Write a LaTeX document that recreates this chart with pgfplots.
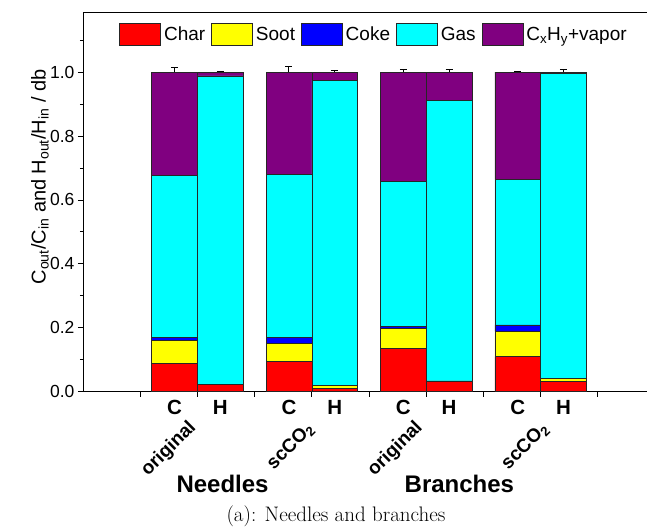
\documentclass[border=0pt]{standalone}
\usepackage{fontspec}
\usepackage{pgfplots}
\pgfplotsset{compat=1.18}
\newfontfamily\arial{Liberation Sans}
\definecolor{cchar}{RGB}{255,0,0}
\definecolor{csoot}{RGB}{255,255,0}
\definecolor{ccoke}{RGB}{0,0,255}
\definecolor{cgas}{RGB}{0,255,255}
\definecolor{cvap}{RGB}{128,0,128}
\tikzset{rotlab/.style={font=\arial\bfseries\fontsize{19bp}{22bp}\selectfont, rotate=45, anchor=east}}
\pgfplotsset{
  frame/.style={at={(0,0)}, anchor=south west,
  scale only axis, width=564bp, height=379bp,
  xmin=0, xmax=4.93, ymin=0, ymax=1.186}
}
\begin{document}
\begin{tikzpicture}
\useasboundingbox (-83bp,-140.3bp) rectangle (564bp,391.7bp);
\begin{axis}[
  frame, clip=false,
  ybar stacked, bar width=0.4,
  axis y line*=left, axis x line*=bottom,
  axis line style={line width=0.9bp, black},
  tick align=outside,
  major tick length=5bp, minor tick length=3bp,
  tick style={black, line width=0.9bp},
  xtick={0.5,1,1.5,2,2.5,3,3.5,4,4.5}, xticklabels={},
  extra x ticks={0.8,1.2,1.8,2.2,2.8,3.2,3.8,4.2},
  extra x tick labels={C,H,C,H,C,H,C,H},
  extra x tick style={major tick length=0pt,
     tick label style={font=\arial\bfseries\fontsize{20.5bp}{24bp}\selectfont, yshift=-5bp}},
  ytick={0,0.2,0.4,0.6,0.8,1.0},
  minor ytick={0.1,0.3,0.5,0.7,0.9,1.1},
  /pgf/number format/assume math mode=true,
  yticklabel style={/pgf/number format/fixed, /pgf/number format/fixed zerofill, /pgf/number format/precision=1,
     font=\arial\fontsize{17.5bp}{20bp}\selectfont},
  ylabel={C\textsubscript{out}/C\textsubscript{in} and H\textsubscript{out}/H\textsubscript{in} / db},
  every axis y label/.style={at={(rel axis cs:0,0.567)}, xshift=-43bp, rotate=90, anchor=center,
     font=\arial\fontsize{20bp}{24bp}\selectfont},
  legend columns=5,
  legend style={at={(rel axis cs:0.516,0.9425)}, anchor=center, draw=none, fill=none,
     font=\arial\fontsize{19bp}{22bp}\selectfont,
     /tikz/every odd column/.append style={column sep=1bp},
     /tikz/every even column/.append style={column sep=4bp}},
  legend image code/.code={\draw[#1, draw=black!85, line width=0.7bp] (0bp,-10.8bp) rectangle (41bp,10.8bp);},
  every axis plot/.append style={draw=black!85, line width=0.6bp},
]
\addplot[fill=cchar] coordinates {(0.8,0.089) (1.2,0.022) (1.8,0.096) (2.2,0.011) (2.8,0.136) (3.2,0.034) (3.8,0.110) (4.2,0.033)};
\addlegendentry{Char}
\addplot[fill=csoot] coordinates {(0.8,0.071) (1.2,0.002) (1.8,0.056) (2.2,0.009) (2.8,0.061) (3.2,0.0) (3.8,0.079) (4.2,0.008)};
\addlegendentry{Soot}
\addplot[fill=ccoke] coordinates {(0.8,0.010) (1.2,0.0) (1.8,0.018) (2.2,0.0) (2.8,0.008) (3.2,0.0) (3.8,0.020) (4.2,0.0)};
\addlegendentry{Coke}
\addplot[fill=cgas] coordinates {(0.8,0.506) (1.2,0.964) (1.8,0.511) (2.2,0.955) (2.8,0.454) (3.2,0.877) (3.8,0.455) (4.2,0.956)};
\addlegendentry{Gas}
\addplot[fill=cvap] coordinates {(0.8,0.324) (1.2,0.012) (1.8,0.319) (2.2,0.025) (2.8,0.341) (3.2,0.089) (3.8,0.336) (4.2,0.003)};
\addlegendentry{C\textsubscript{x}H\textsubscript{y}+vapor}
\draw[line width=0.9bp, black] (rel axis cs:0,1) -- (rel axis cs:1,1);
\node[rotlab] at (axis cs:0.985,-0.096) {original};
\node[rotlab] at (axis cs:2.015,-0.100) {scCO\textsubscript{2}};
\node[rotlab] at (axis cs:2.965,-0.096) {original};
\node[rotlab] at (axis cs:4.065,-0.100) {scCO\textsubscript{2}};
\node[font=\arial\bfseries\fontsize{24bp}{28bp}\selectfont, yshift=-92.3bp] at (axis cs:1.22,0) {Needles};
\node[font=\arial\bfseries\fontsize{24bp}{28bp}\selectfont, yshift=-92.3bp] at (axis cs:3.29,0) {Branches};
\end{axis}
\begin{axis}[frame, hide axis]
\addplot[draw=none, mark=none, forget plot,
   error bars/.cd, y dir=plus, y explicit,
   error bar style={draw=black, line width=1bp},
   error mark options={rotate=90, mark size=3.5bp, draw=black, line width=1bp}]
  coordinates {(0.8,1.0) +- (0,0.014) (1.2,1.0) +- (0,0.003) (1.8,1.0) +- (0,0.018) (2.2,1.0) +- (0,0.005)
               (2.8,1.0) +- (0,0.008) (3.2,1.0) +- (0,0.008) (3.8,1.0) +- (0,0.002) (4.2,1.0) +- (0,0.007)};
\end{axis}
\node[font=\fontsize{21bp}{25bp}\selectfont] at (253bp,-124.3bp) {(a): Needles and branches};
\end{tikzpicture}
\end{document}
